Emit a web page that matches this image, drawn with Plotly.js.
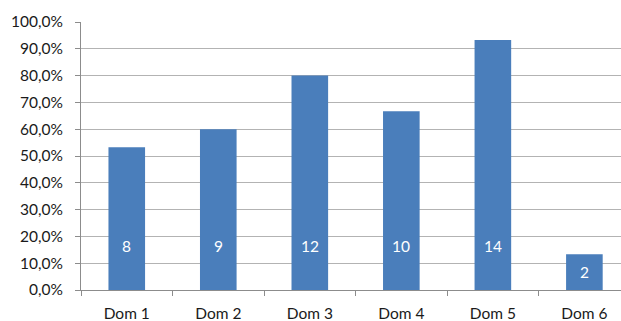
<!DOCTYPE html>
<html>
<head>
<meta charset="utf-8">
<script src="https://cdn.plot.ly/plotly-3.0.1.min.js"></script>
<style>
  html, body { margin: 0; padding: 0; background: #fff; }
  #chart { width: 621px; height: 321px; }
</style>
</head>
<body>
<div id="chart"></div>
<script>
// Share of positive answers per house, with the number of answers shown on each bar
const categories = ['Dom 1', 'Dom 2', 'Dom 3', 'Dom 4', 'Dom 5', 'Dom 6'];
const shares = [0.533, 0.600, 0.800, 0.667, 0.933, 0.133];
const counts = [8, 9, 12, 10, 14, 2];

const labelFont = { family: 'Lato, "Liberation Sans", sans-serif', size: 15.5, color: '#1a1a1a' };

// Count labels sit low inside each bar, or mid-bar when the bar is short
const annotations = categories.map((c, i) => ({
  x: c,
  y: Math.min(shares[i] / 2, 0.164),
  xref: 'x', yref: 'y',
  text: String(counts[i]),
  showarrow: false,
  font: { family: 'Lato, "Liberation Sans", sans-serif', size: 15.5, color: '#ffffff' }
}));

const trace = {
  type: 'bar',
  x: categories,
  y: shares,
  width: 0.4,
  marker: { color: '#4a7ebb' },
  hoverinfo: 'x+y'
};

const layout = {
  width: 621,
  height: 321,
  margin: { l: 81, r: 0, t: 22, b: 31 },
  paper_bgcolor: '#ffffff',
  plot_bgcolor: '#ffffff',
  separators: ',.',
  showlegend: false,
  font: labelFont,
  xaxis: {
    type: 'category',
    range: [-0.5, 5.4],
    showgrid: false,
    showline: true,
    linecolor: '#8c8c8c',
    linewidth: 1,
    ticks: 'outside',
    tickson: 'boundaries',
    ticklen: 5,
    tickcolor: '#8c8c8c',
    tickfont: labelFont,
    ticklabelstandoff: 9,
    zeroline: false
  },
  yaxis: {
    range: [0, 1],
    dtick: 0.1,
    tickformat: '.1%',
    showgrid: true,
    gridcolor: '#b3b3b3',
    gridwidth: 1,
    showline: true,
    linecolor: '#8c8c8c',
    linewidth: 1,
    ticks: 'outside',
    ticklen: 5,
    tickcolor: '#8c8c8c',
    tickfont: labelFont,
    ticklabelstandoff: 9,
    zeroline: false
  },
  annotations: annotations
};

Plotly.newPlot('chart', [trace], layout, { displayModeBar: false, staticPlot: true });
</script>
</body>
</html>
